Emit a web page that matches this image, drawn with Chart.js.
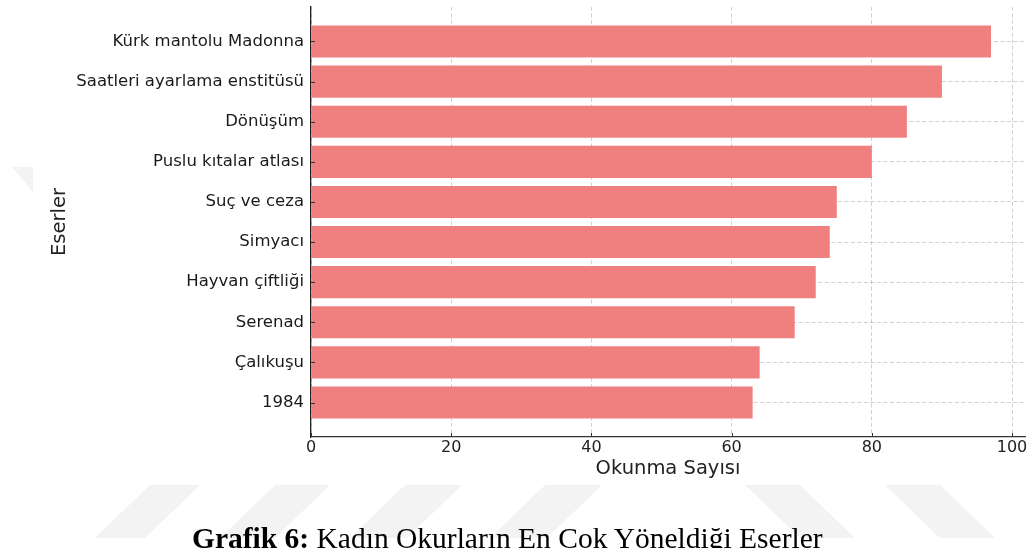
<!DOCTYPE html>
<html>
<head>
<meta charset="utf-8">
<script src="https://cdn.jsdelivr.net/npm/chart.js@4"></script>
<style>
  html, body { margin: 0; padding: 0; background: #ffffff; }
  #wrap { position: relative; width: 1030px; height: 548px; overflow: hidden; }
  #wm { position: absolute; left: 0; top: 0; }
  #c { position: absolute; left: 0; top: 0; }
  #caption {
    position: absolute; left: 192px; top: 524px;
    font-family: "Liberation Serif", "Times New Roman", serif;
    font-size: 29.5px; line-height: 1; white-space: nowrap; color: #000;
  }
</style>
</head>
<body>
<div id="wrap">
  <svg id="wm" width="1030" height="548">
    <g fill="#f3f3f3">
      <polygon points="150,485 200,485 145,538 95,538"/>
      <polygon points="275,485 330,485 275,538 220,538"/>
      <polygon points="405,485 462,485 407,538 350,538"/>
      <polygon points="545,485 602,485 547,538 490,538"/>
      <polygon points="745,485 800,485 855,538 800,538"/>
      <polygon points="885,485 940,485 995,538 940,538"/>
      <polygon points="12,167 33,167 33,192"/>
    </g>
  </svg>
  <canvas id="c" width="1030" height="548"></canvas>
  <div id="caption"><b>Grafik 6:</b> Kadın Okurların En Çok Yöneldiği Eserler</div>
</div>
<script>
const categories = [
  "Kürk mantolu Madonna",
  "Saatleri ayarlama enstitüsü",
  "Dönüşüm",
  "Puslu kıtalar atlası",
  "Suç ve ceza",
  "Simyacı",
  "Hayvan çiftliği",
  "Serenad",
  "Çalıkuşu",
  "1984"
];
const readCounts = [97, 90, 85, 80, 75, 74, 72, 69, 64, 63];
const xTickValues = [0, 20, 40, 60, 80, 100];
const xAxisTitle = "Okunma Sayısı";
const yAxisTitle = "Eserler";

const points = categories.map((c, i) => ({ x: readCounts[i], y: i }));

const FONT = "'DejaVu Sans', sans-serif";
const gridStyle = {
  color: 'rgba(140,140,140,0.45)',
  lineWidth: 0.9,
  drawTicks: false,
  tickLength: 0,
  offset: false
};

const inwardTicks = {
  id: 'inwardTicks',
  afterDraw(chart) {
    const ctx = chart.ctx;
    const xs = chart.scales.x, ys = chart.scales.y;
    const a = chart.chartArea;
    ctx.save();
    ctx.strokeStyle = '#333';
    ctx.lineWidth = 1;
    ctx.beginPath();
    xs.ticks.forEach((t, i) => {
      const px = Math.round(xs.getPixelForTick(i)) + 0.5;
      ctx.moveTo(px, a.bottom);
      ctx.lineTo(px, a.bottom - 4);
    });
    ys.ticks.forEach((t, i) => {
      const py = Math.round(ys.getPixelForTick(i)) + 0.5;
      ctx.moveTo(a.left, py);
      ctx.lineTo(a.left + 4, py);
    });
    ctx.stroke();
    ctx.restore();
  }
};

new Chart(document.getElementById('c'), {
  type: 'bar',
  data: {
    datasets: [{
      data: points,
      backgroundColor: '#F08080',
      borderWidth: 0,
      categoryPercentage: 1.0,
      barPercentage: 0.8
    }]
  },
  options: {
    indexAxis: 'y',
    responsive: false,
    animation: false,
    devicePixelRatio: 1,
    layout: { padding: { top: 7, right: 5, bottom: 0, left: 0 } },
    plugins: { legend: { display: false }, tooltip: { enabled: false } },
    scales: {
      x: {
        type: 'linear',
        z: 1,
        min: 0,
        max: 101.85,
        offset: false,
        afterBuildTicks: (s) => { s.ticks = xTickValues.map(v => ({ value: v })); },
        afterFit: (s) => { s.height = 111; s.paddingLeft = 0; s.paddingRight = 0; },
        ticks: { font: { family: FONT, size: 16 }, color: '#222', padding: 1, maxRotation: 0 },
        grid: gridStyle,
        border: { display: true, color: '#333', width: 1.3, dash: [4, 2.5] },
        title: { display: true, text: xAxisTitle, color: '#222',
                 font: { family: FONT, size: 19.5 }, padding: { top: 0, bottom: 67.3 } }
      },
      y: {
        type: 'linear',
        z: 1,
        min: -0.86,
        max: 9.86,
        reverse: true,
        offset: false,
        afterBuildTicks: (s) => { s.ticks = categories.map((c, i) => ({ value: i })); },
        afterFit: (s) => { s.width = 311; s.paddingTop = 0; s.paddingBottom = 0; },
        ticks: { font: { family: FONT, size: 16.5 }, color: '#1a1a1a', padding: 7, autoSkip: false,
                 callback: (v) => categories[v] },
        grid: gridStyle,
        border: { display: true, color: '#222', width: 1.3, dash: [4, 2.5] },
        title: { display: true, text: yAxisTitle, color: '#222',
                 font: { family: FONT, size: 19.5 }, padding: { top: 48.3, bottom: 0 } }
      }
    }
  },
  plugins: [inwardTicks]
});
</script>
</body>
</html>
